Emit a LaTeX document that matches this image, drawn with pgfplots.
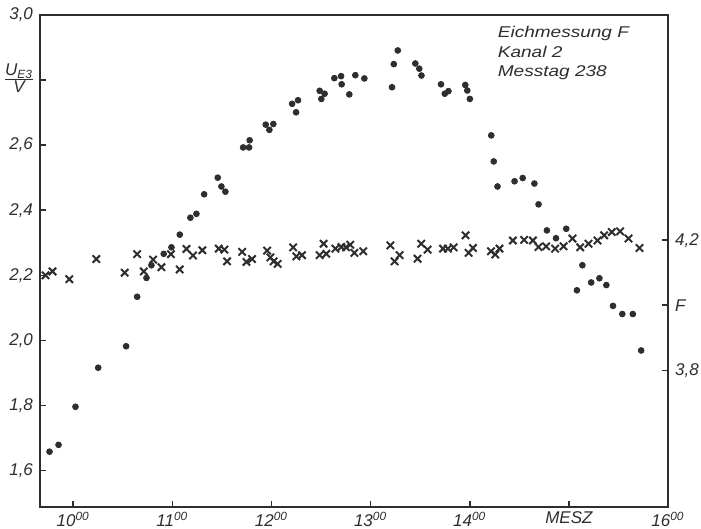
\documentclass[border=0pt]{standalone}
\usepackage{fontspec}
\setmainfont{Liberation Sans}
\newfontfamily\lettering[FakeStretch=1.22]{Liberation Sans}
\usepackage{pgfplots}
\pgfplotsset{compat=1.18}
\definecolor{ink}{HTML}{2E2E2E}
\newcommand{\ulabel}{\begin{tabular}{@{}c@{}}\itshape U\textsubscript{\itshape E3}\\[-1pt]\hline\itshape V\end{tabular}}

\pgfplotstableread{
x y
9.761 1.658
9.852 1.679
10.023 1.796
10.252 1.916
10.534 1.982
10.645 2.134
10.739 2.192
10.789 2.231
10.913 2.266
10.991 2.286
11.075 2.325
11.182 2.377
11.243 2.389
11.321 2.449
11.458 2.500
11.495 2.473
11.535 2.457
11.714 2.593
11.774 2.593
11.780 2.615
11.942 2.663
11.979 2.647
12.019 2.665
12.208 2.727
12.268 2.738
12.248 2.701
12.486 2.767
12.536 2.758
12.503 2.742
12.634 2.806
12.702 2.812
12.708 2.787
12.785 2.756
12.846 2.815
12.937 2.805
13.216 2.778
13.234 2.849
13.274 2.891
13.451 2.851
13.491 2.835
13.513 2.814
13.710 2.787
13.748 2.758
13.785 2.766
13.955 2.785
13.975 2.768
14.001 2.742
14.217 2.630
14.242 2.550
14.280 2.473
14.452 2.489
14.534 2.499
14.652 2.482
14.694 2.418
14.778 2.338
14.870 2.314
14.973 2.343
15.136 2.231
15.081 2.154
15.225 2.178
15.308 2.191
15.378 2.170
15.445 2.106
15.539 2.081
15.645 2.081
15.729 1.969
}\dots

\pgfplotstableread{
x f
9.721 4.092
9.791 4.104
9.961 4.080
10.233 4.142
10.519 4.100
10.645 4.157
10.712 4.104
10.806 4.140
10.890 4.117
10.986 4.157
11.074 4.110
11.142 4.173
11.208 4.153
11.303 4.169
11.468 4.174
11.525 4.171
11.552 4.135
11.704 4.164
11.747 4.133
11.804 4.142
11.956 4.168
11.989 4.147
12.022 4.135
12.062 4.127
12.218 4.178
12.251 4.150
12.308 4.154
12.486 4.154
12.526 4.189
12.553 4.158
12.644 4.174
12.705 4.179
12.752 4.178
12.795 4.186
12.836 4.161
12.926 4.166
13.199 4.184
13.242 4.135
13.292 4.154
13.474 4.143
13.511 4.189
13.575 4.171
13.730 4.174
13.780 4.174
13.837 4.178
13.958 4.215
13.988 4.161
14.032 4.176
14.214 4.166
14.257 4.156
14.300 4.174
14.435 4.199
14.549 4.201
14.637 4.199
14.694 4.179
14.771 4.181
14.862 4.174
14.946 4.181
15.036 4.205
15.114 4.178
15.198 4.189
15.288 4.199
15.356 4.215
15.433 4.225
15.517 4.227
15.601 4.205
15.712 4.176
}\crosses

\begin{document}
\begin{tikzpicture}[x=1pt,y=1pt]
\path[use as bounding box] (-20,-11) rectangle (330.5,253.5);
\begin{axis}[
  at={(0,0)}, anchor=south west,
  scale only axis, width=314pt, height=246pt,
  xmin=9.665, xmax=16, ymin=1.488, ymax=3.0,
  axis line style={ink, line width=0.9pt},
  xtick={10,11,12,13,14,15,16},
  xticklabels={10\textsuperscript{00},11\textsuperscript{00},12\textsuperscript{00},13\textsuperscript{00},14\textsuperscript{00},MESZ,16\textsuperscript{00}},
  xtick pos=bottom, ytick pos=left,
  tick align=inside,
  ytick={1.6,1.8,2.0,2.2,2.4,2.6,2.8,3.0},
  yticklabels={{1,6},{1,8},{2,0},{2,2},{2,4},{2,6},\ulabel,{3,0}},
  major tick length=3pt,
  tick style={ink, line width=0.8pt},
  ticklabel style={font=\itshape\fontsize{8.5}{9}\selectfont, text=ink},
  xticklabel style={yshift=1pt},
  clip=false,
]
\addplot[only marks, mark=*, mark size=1.45pt, ink, mark options={fill=ink, draw=ink}] table[x=x,y=y] {\dots};
\node[anchor=north west, align=left, inner sep=0pt, text=ink,
      font=\lettering\itshape\fontsize{7.8}{9.75}\selectfont]
  at (rel axis cs:0.7284,0.9776) {Eichmessung F\\Kanal 2\\Messtag 238};
\end{axis}
\begin{axis}[
  at={(0,0)}, anchor=south west,
  scale only axis, width=314pt, height=246pt,
  xmin=9.665, xmax=16, ymin=3.380, ymax=4.892,
  axis x line=none, axis y line*=right,
  axis line style={ink, line width=0.9pt},
  ytick={3.8,4.0,4.2}, yticklabels={{3,8},F,{4,2}},
  tick align=inside,
  major tick length=3pt,
  tick style={ink, line width=0.8pt},
  ticklabel style={font=\itshape\fontsize{8.5}{9}\selectfont, text=ink},
]
\addplot[only marks, mark=x, mark size=2.6pt, ink, line width=1pt] table[x=x,y=f] {\crosses};
\end{axis}
\end{tikzpicture}
\end{document}
